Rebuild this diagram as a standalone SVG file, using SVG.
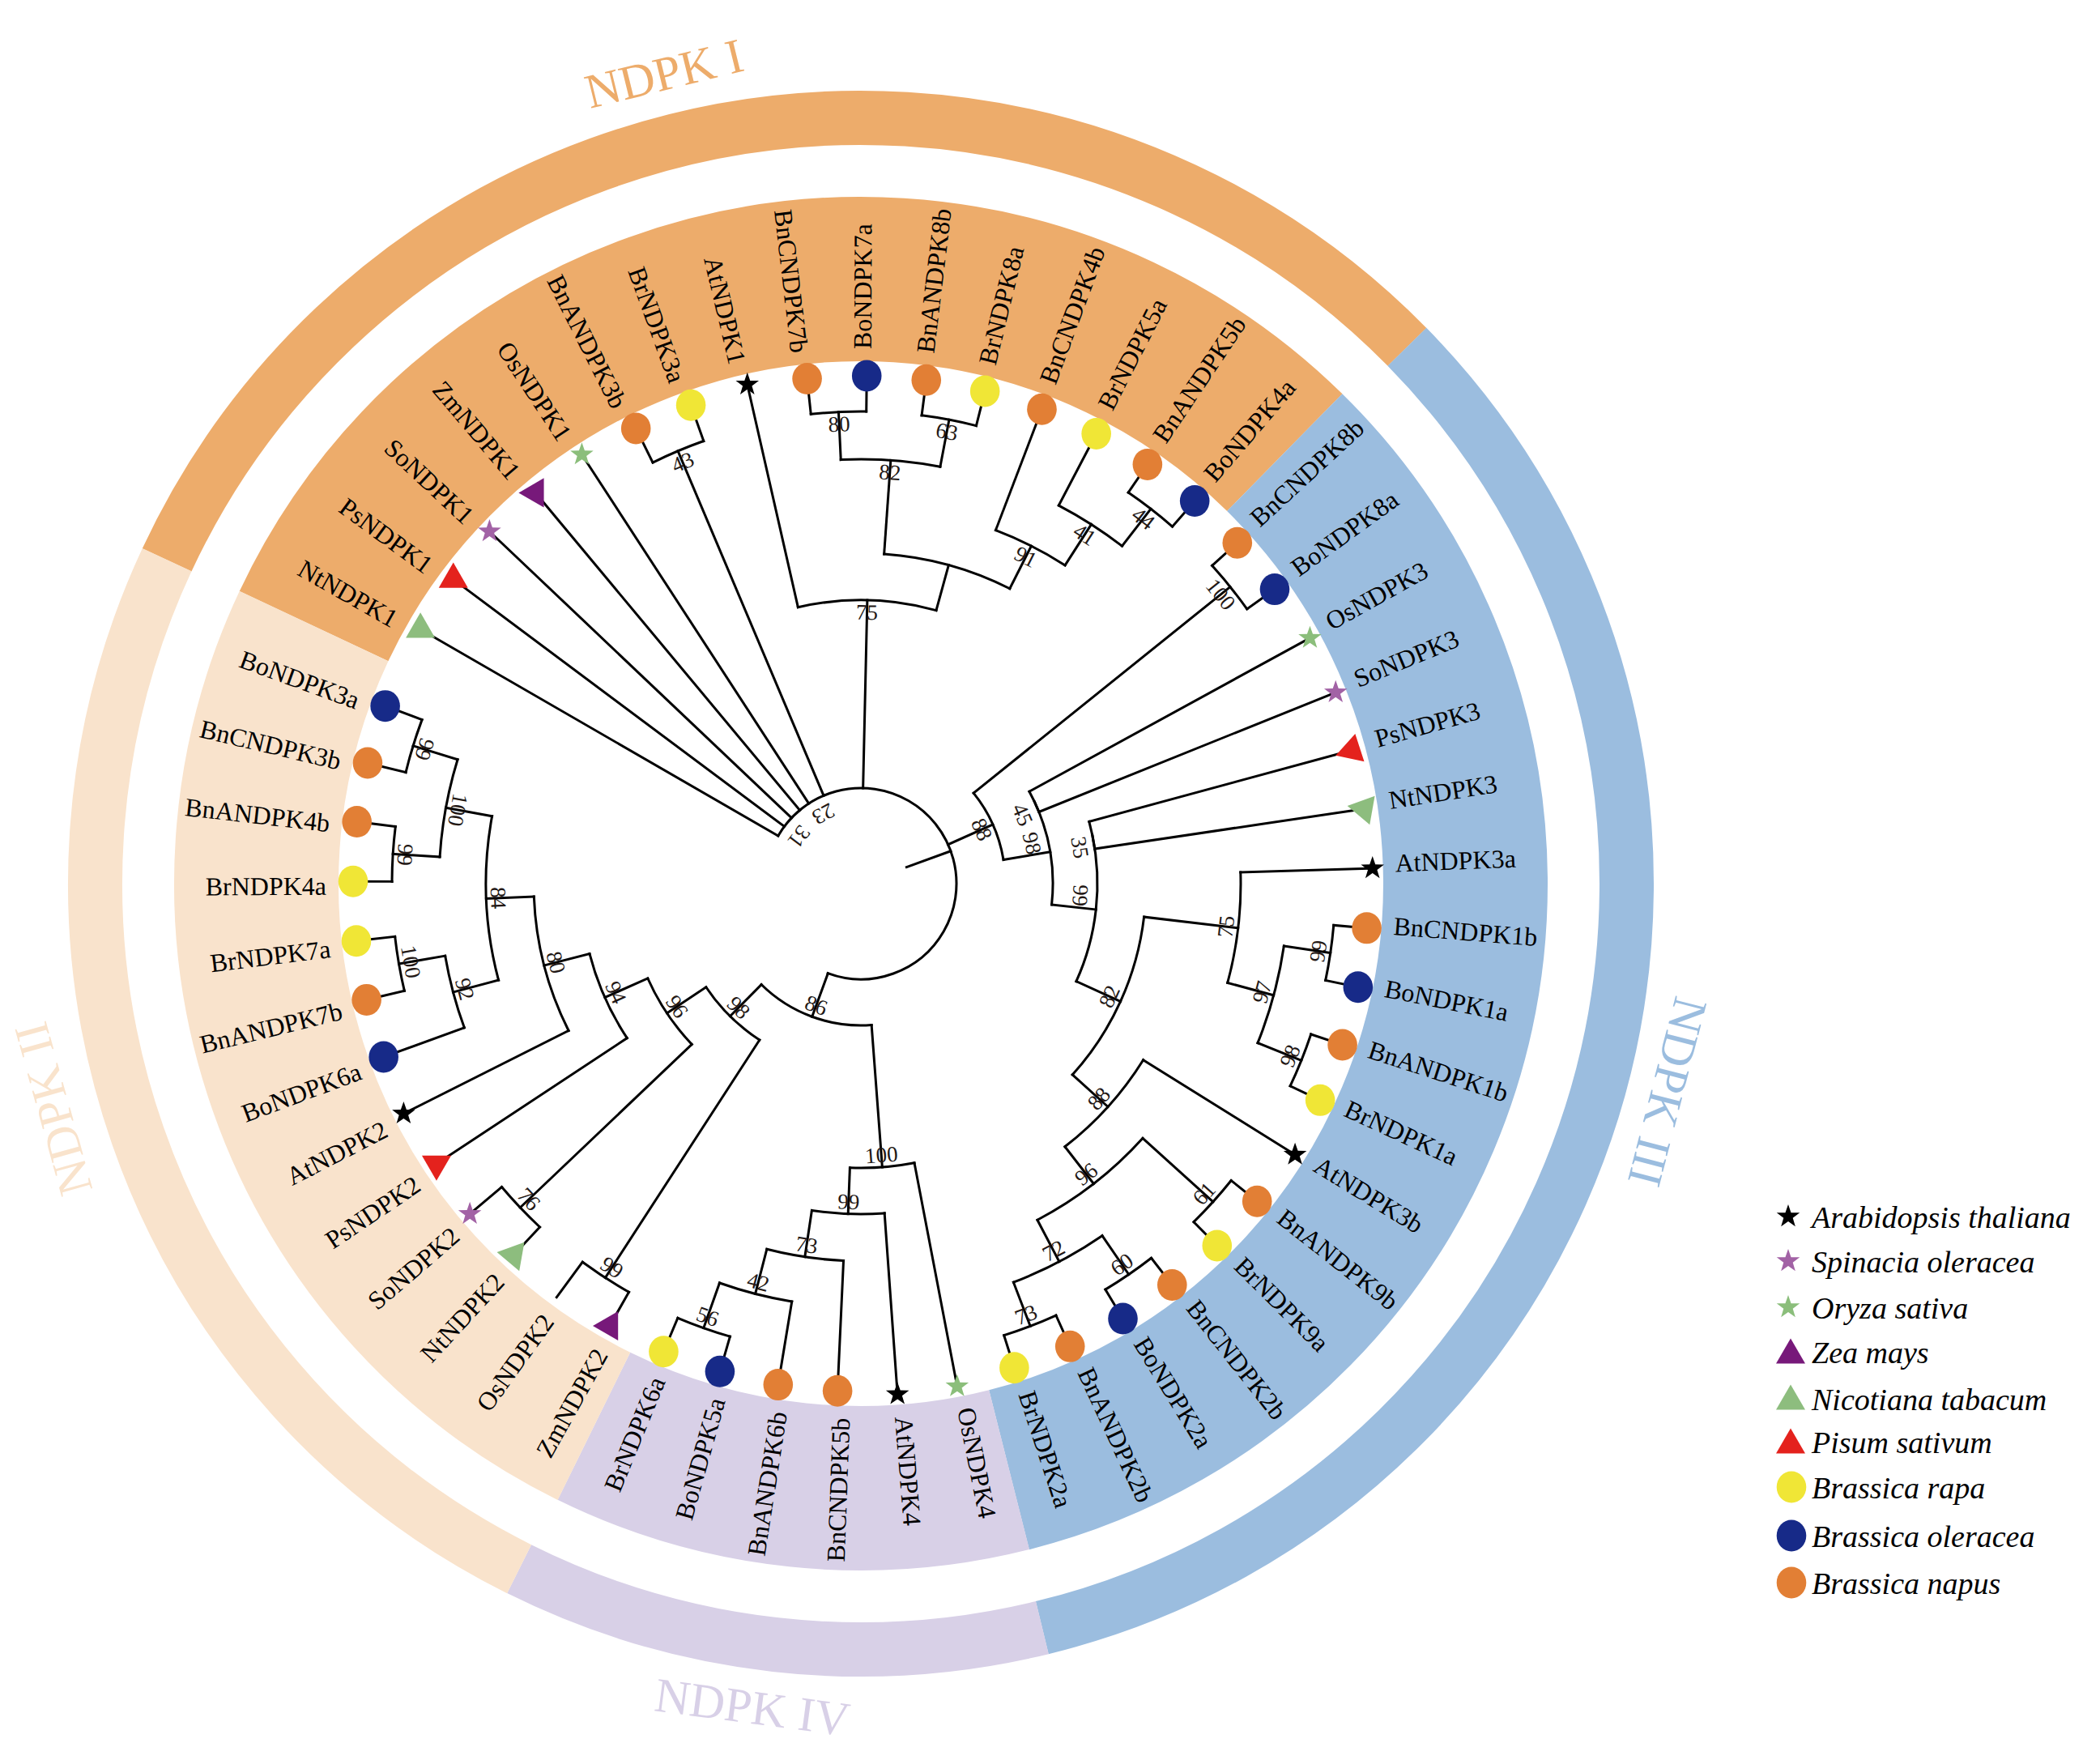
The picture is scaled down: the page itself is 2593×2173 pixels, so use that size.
<svg xmlns="http://www.w3.org/2000/svg" width="2593" height="2173" viewBox="0 0 2593 2173">
<style>
.lf{font-family:"Liberation Serif","Times New Roman",serif;font-size:32px;fill:#000;dominant-baseline:central}
.le{text-anchor:end}
.ls{text-anchor:start}
.bs{font-family:"Liberation Serif","Times New Roman",serif;font-size:27px;fill:#231815;text-anchor:middle;dominant-baseline:central}
.grp{font-family:"Liberation Serif","Times New Roman",serif;font-size:60px;text-anchor:middle;dominant-baseline:central}
.lg{font-family:"Liberation Serif","Times New Roman",serif;font-size:38px;font-style:italic;fill:#000}
</style>
<defs>
<polygon id="star" points="0,-15 3.527,-4.854 14.266,-4.635 5.706,1.854 8.817,12.135 0,6 -8.817,12.135 -5.706,1.854 -14.266,-4.635 -3.527,-4.854"/>
<polygon id="tri" points="0,-20.8 18,10.4 -18,10.4"/>
<polygon id="tril" points="0,-15.5 18,15.5 -18,15.5"/>
<ellipse id="dot" rx="18.3" ry="19.5"/>
</defs>
<rect width="2593" height="2173" fill="#fff"/>
<g id="bands" transform="translate(1063 1091)" fill="none">
<circle r="746.5" stroke="#EDAC6B" stroke-width="203" stroke-dasharray="1424.06 9999" transform="rotate(205.2)"/>
<circle r="746.5" stroke="#9BBDDF" stroke-width="203" stroke-dasharray="1580.41 9999" transform="rotate(314.5)"/>
<circle r="746.5" stroke="#D8D0E7" stroke-width="203" stroke-dasharray="526.37 9999" transform="rotate(435.8)"/>
<circle r="746.5" stroke="#F9E3CC" stroke-width="203" stroke-dasharray="1159.57 9999" transform="rotate(476.2)"/>
<circle r="945.5" stroke="#EDAC6B" stroke-width="67" stroke-dasharray="1823.48 9999" transform="rotate(205)"/>
<circle r="945.5" stroke="#9BBDDF" stroke-width="67" stroke-dasharray="1993.45 9999" transform="rotate(315.5)"/>
<circle r="945.5" stroke="#D8D0E7" stroke-width="67" stroke-dasharray="663.38 9999" transform="rotate(436.3)"/>
<circle r="945.5" stroke="#F9E3CC" stroke-width="67" stroke-dasharray="1460.44 9999" transform="rotate(476.5)"/>
</g>
<g id="group-labels">
<text class="grp" fill="#EDAC6B" transform="translate(820 91) rotate(-13.8)">NDPK I</text>
<text class="grp" fill="#F9E3CC" transform="translate(66 1369) rotate(-105.6)">NDPK II</text>
<text class="grp" fill="#9BBDDF" transform="translate(2059 1348) rotate(104.5)">NDPK III</text>
<text class="grp" fill="#D8D0E7" transform="translate(929 2108) rotate(7.5)">NDPK IV</text>
</g>
<g id="connectors" transform="translate(1063 1091)" fill="none" stroke="#000" stroke-width="3" stroke-linecap="square">
<circle r="118" stroke-dasharray="535.78 9999" transform="rotate(210)"/>
<circle r="580" stroke-dasharray="68.23 9999" transform="rotate(243.70)"/>
<circle r="583" stroke-dasharray="68.58 9999" transform="rotate(263.92)"/>
<circle r="583" stroke-dasharray="68.58 9999" transform="rotate(277.40)"/>
<circle r="524" stroke-dasharray="123.28 9999" transform="rotate(267.29)"/>
<circle r="585" stroke-dasharray="68.82 9999" transform="rotate(304.36)"/>
<circle r="527" stroke-dasharray="92.99 9999" transform="rotate(297.62)"/>
<circle r="467" stroke-dasharray="96.14 9999" transform="rotate(290.88)"/>
<circle r="408" stroke-dasharray="162.00 9999" transform="rotate(274.03)"/>
<circle r="350" stroke-dasharray="172.42 9999" transform="rotate(257.18)"/>
<circle r="585" stroke-dasharray="68.82 9999" transform="rotate(317.84)"/>
<circle r="237" stroke-dasharray="27.88 9999" transform="rotate(331.32)"/>
<circle r="292" stroke-dasharray="34.35 9999" transform="rotate(344.80)"/>
<circle r="586" stroke-dasharray="68.93 9999" transform="rotate(365.02)"/>
<circle r="586" stroke-dasharray="68.93 9999" transform="rotate(378.50)"/>
<circle r="528" stroke-dasharray="124.22 9999" transform="rotate(368.39)"/>
<circle r="469" stroke-dasharray="137.93 9999" transform="rotate(358.28)"/>
<circle r="586" stroke-dasharray="68.93 9999" transform="rotate(398.72)"/>
<circle r="585" stroke-dasharray="68.82 9999" transform="rotate(412.20)"/>
<circle r="585" stroke-dasharray="68.82 9999" transform="rotate(425.68)"/>
<circle r="527" stroke-dasharray="123.99 9999" transform="rotate(415.57)"/>
<circle r="469" stroke-dasharray="165.51 9999" transform="rotate(402.09)"/>
<circle r="411" stroke-dasharray="145.04 9999" transform="rotate(391.98)"/>
<circle r="352" stroke-dasharray="217.39 9999" transform="rotate(366.705)"/>
<circle r="292" stroke-dasharray="184.64 9999" transform="rotate(348.17)"/>
<circle r="237" stroke-dasharray="130.69 9999" transform="rotate(334.69)"/>
<circle r="178.5" stroke-dasharray="91.22 9999" transform="rotate(321.21)"/>
<circle r="582" stroke-dasharray="68.46 9999" transform="rotate(466.12)"/>
<circle r="523" stroke-dasharray="92.29 9999" transform="rotate(459.38)"/>
<circle r="466" stroke-dasharray="95.93 9999" transform="rotate(452.64)"/>
<circle r="408" stroke-dasharray="90.01 9999" transform="rotate(445.90)"/>
<circle r="351" stroke-dasharray="80.01 9999" transform="rotate(439.16)"/>
<circle r="580" stroke-dasharray="68.23 9999" transform="rotate(479.60)"/>
<circle r="580.5" stroke-dasharray="68.29 9999" transform="rotate(493.08)"/>
<circle r="579" stroke-dasharray="68.11 9999" transform="rotate(526.78)"/>
<circle r="521" stroke-dasharray="91.93 9999" transform="rotate(520.04)"/>
<circle r="579" stroke-dasharray="68.11 9999" transform="rotate(540.26)"/>
<circle r="578.5" stroke-dasharray="68.05 9999" transform="rotate(553.74)"/>
<circle r="521" stroke-dasharray="122.58 9999" transform="rotate(543.63)"/>
<circle r="463" stroke-dasharray="204.24 9999" transform="rotate(525.095)"/>
<circle r="404" stroke-dasharray="172.26 9999" transform="rotate(513.30)"/>
<circle r="346" stroke-dasharray="114.50 9999" transform="rotate(506.56)"/>
<circle r="288" stroke-dasharray="98.47 9999" transform="rotate(496.45)"/>
<circle r="230" stroke-dasharray="93.45 9999" transform="rotate(482.97)"/>
<circle r="175" stroke-dasharray="149.42 9999" transform="rotate(445.69)"/>
<line x1="60" x2="118" transform="rotate(340.07)"/>
<line x1="118" x2="626" transform="rotate(210)"/>
<line x1="118" x2="626" transform="rotate(216.74)"/>
<line x1="118" x2="626" transform="rotate(223.48)"/>
<line x1="118" x2="626" transform="rotate(230.22)"/>
<line x1="118" x2="626" transform="rotate(236.96)"/>
<line x1="118" x2="580" transform="rotate(247.07)"/>
<line x1="118" x2="350" transform="rotate(271.29)"/>
<line x1="118" x2="178.5" transform="rotate(335.85)"/>
<line x1="118" x2="175" transform="rotate(470.15)"/>
<line x1="580" x2="626" transform="rotate(243.70)"/>
<line x1="580" x2="626" transform="rotate(250.44)"/>
<line x1="350" x2="626" transform="rotate(257.18)"/>
<line x1="350" x2="408" transform="rotate(285.405)"/>
<line x1="408" x2="524" transform="rotate(274.03)"/>
<line x1="408" x2="467" transform="rotate(296.78)"/>
<line x1="524" x2="583" transform="rotate(267.29)"/>
<line x1="524" x2="583" transform="rotate(280.77)"/>
<line x1="583" x2="626" transform="rotate(263.92)"/>
<line x1="583" x2="626" transform="rotate(270.66)"/>
<line x1="583" x2="626" transform="rotate(277.40)"/>
<line x1="583" x2="626" transform="rotate(284.14)"/>
<line x1="467" x2="626" transform="rotate(290.88)"/>
<line x1="467" x2="527" transform="rotate(302.675)"/>
<line x1="527" x2="626" transform="rotate(297.62)"/>
<line x1="527" x2="585" transform="rotate(307.73)"/>
<line x1="585" x2="626" transform="rotate(304.36)"/>
<line x1="585" x2="626" transform="rotate(311.10)"/>
<line x1="178.5" x2="585" transform="rotate(321.21)"/>
<line x1="178.5" x2="237" transform="rotate(350.49)"/>
<line x1="585" x2="626" transform="rotate(317.84)"/>
<line x1="585" x2="626" transform="rotate(324.58)"/>
<line x1="237" x2="292" transform="rotate(366.285)"/>
<line x1="237" x2="626" transform="rotate(331.32)"/>
<line x1="237" x2="626" transform="rotate(338.06)"/>
<line x1="292" x2="352" transform="rotate(384.40)"/>
<line x1="292" x2="626" transform="rotate(344.80)"/>
<line x1="292" x2="626" transform="rotate(351.54)"/>
<line x1="352" x2="469" transform="rotate(366.705)"/>
<line x1="352" x2="411" transform="rotate(402.09)"/>
<line x1="469" x2="626" transform="rotate(358.28)"/>
<line x1="469" x2="528" transform="rotate(375.13)"/>
<line x1="528" x2="586" transform="rotate(368.39)"/>
<line x1="528" x2="586" transform="rotate(381.87)"/>
<line x1="586" x2="626" transform="rotate(365.02)"/>
<line x1="586" x2="626" transform="rotate(371.76)"/>
<line x1="586" x2="626" transform="rotate(378.50)"/>
<line x1="586" x2="626" transform="rotate(385.24)"/>
<line x1="411" x2="626" transform="rotate(391.98)"/>
<line x1="411" x2="469" transform="rotate(412.20)"/>
<line x1="469" x2="586" transform="rotate(402.09)"/>
<line x1="469" x2="527" transform="rotate(422.31)"/>
<line x1="586" x2="626" transform="rotate(398.72)"/>
<line x1="586" x2="626" transform="rotate(405.46)"/>
<line x1="527" x2="585" transform="rotate(415.57)"/>
<line x1="527" x2="585" transform="rotate(429.05)"/>
<line x1="585" x2="626" transform="rotate(412.20)"/>
<line x1="585" x2="626" transform="rotate(418.94)"/>
<line x1="585" x2="626" transform="rotate(425.68)"/>
<line x1="585" x2="626" transform="rotate(432.42)"/>
<line x1="175" x2="351" transform="rotate(445.69)"/>
<line x1="175" x2="230" transform="rotate(494.61)"/>
<line x1="351" x2="626" transform="rotate(439.16)"/>
<line x1="351" x2="408" transform="rotate(452.22)"/>
<line x1="408" x2="626" transform="rotate(445.90)"/>
<line x1="408" x2="466" transform="rotate(458.54)"/>
<line x1="466" x2="626" transform="rotate(452.64)"/>
<line x1="466" x2="523" transform="rotate(464.435)"/>
<line x1="523" x2="626" transform="rotate(459.38)"/>
<line x1="523" x2="582" transform="rotate(469.49)"/>
<line x1="582" x2="626" transform="rotate(466.12)"/>
<line x1="582" x2="626" transform="rotate(472.86)"/>
<line x1="230" x2="580" transform="rotate(482.97)"/>
<line x1="230" x2="288" transform="rotate(506.25)"/>
<line x1="580" x2="626" transform="rotate(479.60)"/>
<line x1="580" x2="634" transform="rotate(486.34)"/>
<line x1="288" x2="580.5" transform="rotate(496.45)"/>
<line x1="288" x2="346" transform="rotate(516.04)"/>
<line x1="580.5" x2="626" transform="rotate(493.08)"/>
<line x1="580.5" x2="626" transform="rotate(499.82)"/>
<line x1="346" x2="626" transform="rotate(506.56)"/>
<line x1="346" x2="404" transform="rotate(525.52)"/>
<line x1="404" x2="626" transform="rotate(513.30)"/>
<line x1="404" x2="463" transform="rotate(537.73)"/>
<line x1="463" x2="521" transform="rotate(525.095)"/>
<line x1="463" x2="521" transform="rotate(550.37)"/>
<line x1="521" x2="626" transform="rotate(520.04)"/>
<line x1="521" x2="579" transform="rotate(530.15)"/>
<line x1="579" x2="626" transform="rotate(526.78)"/>
<line x1="579" x2="626" transform="rotate(533.52)"/>
<line x1="521" x2="579" transform="rotate(543.63)"/>
<line x1="521" x2="578.5" transform="rotate(557.11)"/>
<line x1="579" x2="626" transform="rotate(540.26)"/>
<line x1="579" x2="626" transform="rotate(547.00)"/>
<line x1="578.5" x2="626" transform="rotate(553.74)"/>
<line x1="578.5" x2="626" transform="rotate(560.48)"/>
</g>
<g id="bootstrap" transform="translate(1063 1091)">
<g id="node-23"><text class="bs" transform="rotate(241.7) translate(97.7 0) rotate(-90)">23</text></g>
<g id="node-31"><text class="bs" transform="rotate(217.2) translate(95.8 0) rotate(-90)">31</text></g>
<g id="node-43"><text class="bs" transform="rotate(247.07) translate(565 0) rotate(90)">43</text></g>
<g id="node-80a"><text class="bs" transform="rotate(267.29) translate(568 0) rotate(90)">80</text></g>
<g id="node-63"><text class="bs" transform="rotate(280.77) translate(568 0) rotate(90)">63</text></g>
<g id="node-82a"><text class="bs" transform="rotate(274.03) translate(509 0) rotate(90)">82</text></g>
<g id="node-44"><text class="bs" transform="rotate(307.73) translate(570 0) rotate(90)">44</text></g>
<g id="node-41"><text class="bs" transform="rotate(302.675) translate(512 0) rotate(90)">41</text></g>
<g id="node-91"><text class="bs" transform="rotate(296.78) translate(452 0) rotate(90)">91</text></g>
<g id="node-75a"><text class="bs" transform="rotate(271.29) translate(335 0) rotate(90)">75</text></g>
<g id="node-100a"><text class="bs" transform="rotate(321.21) translate(570 0) rotate(90)">100</text></g>
<g id="node-45"><text class="bs" transform="rotate(336.9) translate(217 0) rotate(90)">45</text></g>
<g id="node-98a"><text class="bs" transform="rotate(346.7) translate(217 0) rotate(90)">98</text></g>
<g id="node-88a"><text class="bs" transform="rotate(335.85) translate(163.5 0) rotate(90)">88</text></g>
<g id="node-35"><text class="bs" transform="rotate(350.6) translate(274 0) rotate(90)">35</text></g>
<g id="node-66"><text class="bs" transform="rotate(363.1) translate(271 0) rotate(-90)">66</text></g>
<g id="node-99a"><text class="bs" transform="rotate(368.39) translate(571 0) rotate(-90)">99</text></g>
<g id="node-98b"><text class="bs" transform="rotate(381.87) translate(571 0) rotate(-90)">98</text></g>
<g id="node-97"><text class="bs" transform="rotate(375.13) translate(513 0) rotate(-90)">97</text></g>
<g id="node-75b"><text class="bs" transform="rotate(366.705) translate(454 0) rotate(-90)">75</text></g>
<g id="node-61"><text class="bs" transform="rotate(402.09) translate(571 0) rotate(-90)">61</text></g>
<g id="node-60"><text class="bs" transform="rotate(415.57) translate(570 0) rotate(-90)">60</text></g>
<g id="node-73a"><text class="bs" transform="rotate(429.05) translate(570 0) rotate(-90)">73</text></g>
<g id="node-72"><text class="bs" transform="rotate(422.31) translate(512 0) rotate(-90)">72</text></g>
<g id="node-96a"><text class="bs" transform="rotate(412.20) translate(454 0) rotate(-90)">96</text></g>
<g id="node-88b"><text class="bs" transform="rotate(402.09) translate(396 0) rotate(-90)">88</text></g>
<g id="node-82b"><text class="bs" transform="rotate(384.40) translate(337 0) rotate(-90)">82</text></g>
<g id="node-56"><text class="bs" transform="rotate(469.49) translate(567 0) rotate(-90)">56</text></g>
<g id="node-42"><text class="bs" transform="rotate(464.435) translate(508 0) rotate(-90)">42</text></g>
<g id="node-73b"><text class="bs" transform="rotate(458.54) translate(451 0) rotate(-90)">73</text></g>
<g id="node-99b"><text class="bs" transform="rotate(452.22) translate(393 0) rotate(-90)">99</text></g>
<g id="node-100b"><text class="bs" transform="rotate(445.69) translate(336 0) rotate(-90)">100</text></g>
<g id="node-99c"><text class="bs" transform="rotate(482.97) translate(565 0) rotate(-90)">99</text></g>
<g id="node-76"><text class="bs" transform="rotate(496.45) translate(565.5 0) rotate(-90)">76</text></g>
<g id="node-100c"><text class="bs" transform="rotate(530.15) translate(564 0) rotate(-90)">100</text></g>
<g id="node-92"><text class="bs" transform="rotate(525.095) translate(506 0) rotate(-90)">92</text></g>
<g id="node-99d"><text class="bs" transform="rotate(543.63) translate(564 0) rotate(-90)">99</text></g>
<g id="node-99e"><text class="bs" transform="rotate(557.11) translate(563.5 0) rotate(-90)">99</text></g>
<g id="node-100d"><text class="bs" transform="rotate(550.37) translate(506 0) rotate(-90)">100</text></g>
<g id="node-84"><text class="bs" transform="rotate(537.73) translate(448 0) rotate(-90)">84</text></g>
<g id="node-80b"><text class="bs" transform="rotate(525.52) translate(389 0) rotate(-90)">80</text></g>
<g id="node-94"><text class="bs" transform="rotate(516.04) translate(331 0) rotate(-90)">94</text></g>
<g id="node-96b"><text class="bs" transform="rotate(506.25) translate(273 0) rotate(-90)">96</text></g>
<g id="node-98c"><text class="bs" transform="rotate(494.61) translate(215 0) rotate(-90)">98</text></g>
<g id="node-86"><text class="bs" transform="rotate(470.15) translate(160 0) rotate(-90)">86</text></g>
</g>
<g id="leaves" transform="translate(1063 1091)">
<g id="leaf-NtNDPK1"><use href="#tri" fill="#8DBD7E" transform="rotate(210) translate(628 0) rotate(-210)"/><text class="lf le" transform="rotate(209.5) translate(660 0) rotate(180)">NtNDPK1</text></g>
<g id="leaf-PsNDPK1"><use href="#tri" fill="#E4221D" transform="rotate(216.74) translate(628 0) rotate(-216.74)"/><text class="lf le" transform="rotate(216.24) translate(660 0) rotate(180)">PsNDPK1</text></g>
<g id="leaf-SoNDPK1"><use href="#star" fill="#A262A5" transform="rotate(223.48) translate(632 0) rotate(-223.48)"/><text class="lf le" transform="rotate(222.98) translate(660 0) rotate(180)">SoNDPK1</text></g>
<g id="leaf-ZmNDPK1"><use href="#tri" fill="#77197A" transform="rotate(230.22) translate(628 0) rotate(-200.22)"/><text class="lf le" transform="rotate(229.72) translate(660 0) rotate(180)">ZmNDPK1</text></g>
<g id="leaf-OsNDPK1"><use href="#star" fill="#8BBE7B" transform="rotate(236.96) translate(632 0) rotate(-236.96)"/><text class="lf le" transform="rotate(236.46) translate(660 0) rotate(180)">OsNDPK1</text></g>
<g id="leaf-BnANDPK3b"><use href="#dot" fill="#E27F35" transform="rotate(243.70) translate(627 0) rotate(-243.70)"/><text class="lf le" transform="rotate(243.20) translate(660 0) rotate(180)">BnANDPK3b</text></g>
<g id="leaf-BrNDPK3a"><use href="#dot" fill="#F0E636" transform="rotate(250.44) translate(627 0) rotate(-250.44)"/><text class="lf le" transform="rotate(249.94) translate(660 0) rotate(180)">BrNDPK3a</text></g>
<g id="leaf-AtNDPK1"><use href="#star" fill="#000" transform="rotate(257.18) translate(632 0) rotate(-257.18)"/><text class="lf le" transform="rotate(256.68) translate(660 0) rotate(180)">AtNDPK1</text></g>
<g id="leaf-BnCNDPK7b"><use href="#dot" fill="#E27F35" transform="rotate(263.92) translate(627 0) rotate(-263.92)"/><text class="lf le" transform="rotate(263.42) translate(660 0) rotate(180)">BnCNDPK7b</text></g>
<g id="leaf-BoNDPK7a"><use href="#dot" fill="#172A88" transform="rotate(270.66) translate(627 0) rotate(-270.66)"/><text class="lf ls" transform="rotate(270.16) translate(660 0)">BoNDPK7a</text></g>
<g id="leaf-BnANDPK8b"><use href="#dot" fill="#E27F35" transform="rotate(277.40) translate(627 0) rotate(-277.40)"/><text class="lf ls" transform="rotate(276.90) translate(660 0)">BnANDPK8b</text></g>
<g id="leaf-BrNDPK8a"><use href="#dot" fill="#F0E636" transform="rotate(284.14) translate(627 0) rotate(-284.14)"/><text class="lf ls" transform="rotate(283.64) translate(660 0)">BrNDPK8a</text></g>
<g id="leaf-BnCNDPK4b"><use href="#dot" fill="#E27F35" transform="rotate(290.88) translate(627 0) rotate(-290.88)"/><text class="lf ls" transform="rotate(290.38) translate(660 0)">BnCNDPK4b</text></g>
<g id="leaf-BrNDPK5a"><use href="#dot" fill="#F0E636" transform="rotate(297.62) translate(627 0) rotate(-297.62)"/><text class="lf ls" transform="rotate(297.12) translate(660 0)">BrNDPK5a</text></g>
<g id="leaf-BnANDPK5b"><use href="#dot" fill="#E27F35" transform="rotate(304.36) translate(627 0) rotate(-304.36)"/><text class="lf ls" transform="rotate(303.86) translate(660 0)">BnANDPK5b</text></g>
<g id="leaf-BoNDPK4a"><use href="#dot" fill="#172A88" transform="rotate(311.10) translate(627 0) rotate(-311.10)"/><text class="lf ls" transform="rotate(310.60) translate(660 0)">BoNDPK4a</text></g>
<g id="leaf-BnCNDPK8b"><use href="#dot" fill="#E27F35" transform="rotate(317.84) translate(627 0) rotate(-317.84)"/><text class="lf ls" transform="rotate(317.34) translate(660 0)">BnCNDPK8b</text></g>
<g id="leaf-BoNDPK8a"><use href="#dot" fill="#172A88" transform="rotate(324.58) translate(627 0) rotate(-324.58)"/><text class="lf ls" transform="rotate(324.08) translate(660 0)">BoNDPK8a</text></g>
<g id="leaf-OsNDPK3"><use href="#star" fill="#8BBE7B" transform="rotate(331.32) translate(632 0) rotate(-331.32)"/><text class="lf ls" transform="rotate(330.82) translate(660 0)">OsNDPK3</text></g>
<g id="leaf-SoNDPK3"><use href="#star" fill="#A262A5" transform="rotate(338.06) translate(632 0) rotate(-338.06)"/><text class="lf ls" transform="rotate(337.56) translate(660 0)">SoNDPK3</text></g>
<g id="leaf-PsNDPK3"><use href="#tri" fill="#E4221D" transform="rotate(344.80) translate(628 0) rotate(-332.80)"/><text class="lf ls" transform="rotate(344.30) translate(660 0)">PsNDPK3</text></g>
<g id="leaf-NtNDPK3"><use href="#tri" fill="#8DBD7E" transform="rotate(351.54) translate(628 0) rotate(-311.54)"/><text class="lf ls" transform="rotate(351.04) translate(660 0)">NtNDPK3</text></g>
<g id="leaf-AtNDPK3a"><use href="#star" fill="#000" transform="rotate(358.28) translate(632 0) rotate(-358.28)"/><text class="lf ls" transform="rotate(357.78) translate(660 0)">AtNDPK3a</text></g>
<g id="leaf-BnCNDPK1b"><use href="#dot" fill="#E27F35" transform="rotate(365.02) translate(627 0) rotate(-365.02)"/><text class="lf ls" transform="rotate(364.52) translate(660 0)">BnCNDPK1b</text></g>
<g id="leaf-BoNDPK1a"><use href="#dot" fill="#172A88" transform="rotate(371.76) translate(627 0) rotate(-371.76)"/><text class="lf ls" transform="rotate(371.26) translate(660 0)">BoNDPK1a</text></g>
<g id="leaf-BnANDPK1b"><use href="#dot" fill="#E27F35" transform="rotate(378.50) translate(627 0) rotate(-378.50)"/><text class="lf ls" transform="rotate(378.00) translate(660 0)">BnANDPK1b</text></g>
<g id="leaf-BrNDPK1a"><use href="#dot" fill="#F0E636" transform="rotate(385.24) translate(627 0) rotate(-385.24)"/><text class="lf ls" transform="rotate(384.74) translate(660 0)">BrNDPK1a</text></g>
<g id="leaf-AtNDPK3b"><use href="#star" fill="#000" transform="rotate(391.98) translate(632 0) rotate(-391.98)"/><text class="lf ls" transform="rotate(391.48) translate(660 0)">AtNDPK3b</text></g>
<g id="leaf-BnANDPK9b"><use href="#dot" fill="#E27F35" transform="rotate(398.72) translate(627 0) rotate(-398.72)"/><text class="lf ls" transform="rotate(398.22) translate(660 0)">BnANDPK9b</text></g>
<g id="leaf-BrNDPK9a"><use href="#dot" fill="#F0E636" transform="rotate(405.46) translate(627 0) rotate(-405.46)"/><text class="lf ls" transform="rotate(404.96) translate(660 0)">BrNDPK9a</text></g>
<g id="leaf-BnCNDPK2b"><use href="#dot" fill="#E27F35" transform="rotate(412.20) translate(627 0) rotate(-412.20)"/><text class="lf ls" transform="rotate(411.70) translate(660 0)">BnCNDPK2b</text></g>
<g id="leaf-BoNDPK2a"><use href="#dot" fill="#172A88" transform="rotate(418.94) translate(627 0) rotate(-418.94)"/><text class="lf ls" transform="rotate(418.44) translate(660 0)">BoNDPK2a</text></g>
<g id="leaf-BnANDPK2b"><use href="#dot" fill="#E27F35" transform="rotate(425.68) translate(627 0) rotate(-425.68)"/><text class="lf ls" transform="rotate(425.18) translate(660 0)">BnANDPK2b</text></g>
<g id="leaf-BrNDPK2a"><use href="#dot" fill="#F0E636" transform="rotate(432.42) translate(627 0) rotate(-432.42)"/><text class="lf ls" transform="rotate(431.92) translate(660 0)">BrNDPK2a</text></g>
<g id="leaf-OsNDPK4"><use href="#star" fill="#8BBE7B" transform="rotate(439.16) translate(632 0) rotate(-439.16)"/><text class="lf ls" transform="rotate(438.66) translate(660 0)">OsNDPK4</text></g>
<g id="leaf-AtNDPK4"><use href="#star" fill="#000" transform="rotate(445.90) translate(632 0) rotate(-445.90)"/><text class="lf ls" transform="rotate(445.40) translate(660 0)">AtNDPK4</text></g>
<g id="leaf-BnCNDPK5b"><use href="#dot" fill="#E27F35" transform="rotate(452.64) translate(627 0) rotate(-452.64)"/><text class="lf le" transform="rotate(452.14) translate(660 0) rotate(180)">BnCNDPK5b</text></g>
<g id="leaf-BnANDPK6b"><use href="#dot" fill="#E27F35" transform="rotate(459.38) translate(627 0) rotate(-459.38)"/><text class="lf le" transform="rotate(458.88) translate(660 0) rotate(180)">BnANDPK6b</text></g>
<g id="leaf-BoNDPK5a"><use href="#dot" fill="#172A88" transform="rotate(466.12) translate(627 0) rotate(-466.12)"/><text class="lf le" transform="rotate(465.62) translate(660 0) rotate(180)">BoNDPK5a</text></g>
<g id="leaf-BrNDPK6a"><use href="#dot" fill="#F0E636" transform="rotate(472.86) translate(627 0) rotate(-472.86)"/><text class="lf le" transform="rotate(472.36) translate(660 0) rotate(180)">BrNDPK6a</text></g>
<g id="leaf-ZmNDPK2"><use href="#tri" fill="#77197A" transform="rotate(479.60) translate(628 0) rotate(-449.60)"/><text class="lf le" transform="rotate(479.10) translate(660 0) rotate(180)">ZmNDPK2</text></g>
<g id="leaf-OsNDPK2"><text class="lf le" transform="rotate(485.84) translate(660 0) rotate(180)">OsNDPK2</text></g>
<g id="leaf-NtNDPK2"><use href="#tri" fill="#8DBD7E" transform="rotate(493.08) translate(628 0) rotate(-453.08)"/><text class="lf le" transform="rotate(492.58) translate(660 0) rotate(180)">NtNDPK2</text></g>
<g id="leaf-SoNDPK2"><use href="#star" fill="#A262A5" transform="rotate(499.82) translate(632 0) rotate(-499.82)"/><text class="lf le" transform="rotate(499.32) translate(660 0) rotate(180)">SoNDPK2</text></g>
<g id="leaf-PsNDPK2"><use href="#tri" fill="#E4221D" transform="rotate(506.56) translate(628 0) rotate(-446.56)"/><text class="lf le" transform="rotate(506.06) translate(660 0) rotate(180)">PsNDPK2</text></g>
<g id="leaf-AtNDPK2"><use href="#star" fill="#000" transform="rotate(513.30) translate(632 0) rotate(-513.30)"/><text class="lf le" transform="rotate(512.80) translate(660 0) rotate(180)">AtNDPK2</text></g>
<g id="leaf-BoNDPK6a"><use href="#dot" fill="#172A88" transform="rotate(520.04) translate(627 0) rotate(-520.04)"/><text class="lf le" transform="rotate(519.54) translate(660 0) rotate(180)">BoNDPK6a</text></g>
<g id="leaf-BnANDPK7b"><use href="#dot" fill="#E27F35" transform="rotate(526.78) translate(627 0) rotate(-526.78)"/><text class="lf le" transform="rotate(526.28) translate(660 0) rotate(180)">BnANDPK7b</text></g>
<g id="leaf-BrNDPK7a"><use href="#dot" fill="#F0E636" transform="rotate(533.52) translate(627 0) rotate(-533.52)"/><text class="lf le" transform="rotate(533.02) translate(660 0) rotate(180)">BrNDPK7a</text></g>
<g id="leaf-BrNDPK4a"><use href="#dot" fill="#F0E636" transform="rotate(540.26) translate(627 0) rotate(-540.26)"/><text class="lf le" transform="rotate(539.76) translate(660 0) rotate(180)">BrNDPK4a</text></g>
<g id="leaf-BnANDPK4b"><use href="#dot" fill="#E27F35" transform="rotate(547.00) translate(627 0) rotate(-547.00)"/><text class="lf le" transform="rotate(546.50) translate(660 0) rotate(180)">BnANDPK4b</text></g>
<g id="leaf-BnCNDPK3b"><use href="#dot" fill="#E27F35" transform="rotate(553.74) translate(627 0) rotate(-553.74)"/><text class="lf le" transform="rotate(553.24) translate(660 0) rotate(180)">BnCNDPK3b</text></g>
<g id="leaf-BoNDPK3a"><use href="#dot" fill="#172A88" transform="rotate(560.48) translate(627 0) rotate(-560.48)"/><text class="lf le" transform="rotate(559.98) translate(660 0) rotate(180)">BoNDPK3a</text></g>
</g>
<g id="legend">
<use href="#star" fill="#000" transform="translate(2208 1502)"/>
<text class="lg" x="2237" y="1516">Arabidopsis thaliana</text>
<use href="#star" fill="#A262A5" transform="translate(2208 1557)"/>
<text class="lg" x="2237" y="1571">Spinacia oleracea</text>
<use href="#star" fill="#8BBE7B" transform="translate(2208 1614)"/>
<text class="lg" x="2237" y="1628">Oryza sativa</text>
<use href="#tril" fill="#77197A" transform="translate(2211 1668)"/>
<text class="lg" x="2237" y="1683">Zea mays</text>
<use href="#tril" fill="#8DBD7E" transform="translate(2211 1725)"/>
<text class="lg" x="2237" y="1741">Nicotiana tabacum</text>
<use href="#tril" fill="#E4221D" transform="translate(2211 1779)"/>
<text class="lg" x="2237" y="1794">Pisum sativum</text>
<use href="#dot" fill="#F0E636" transform="translate(2212 1836)"/>
<text class="lg" x="2237" y="1850">Brassica rapa</text>
<use href="#dot" fill="#172A88" transform="translate(2212 1896)"/>
<text class="lg" x="2237" y="1910">Brassica oleracea</text>
<use href="#dot" fill="#E27F35" transform="translate(2212 1954)"/>
<text class="lg" x="2237" y="1968">Brassica napus</text>
</g>
</svg>
